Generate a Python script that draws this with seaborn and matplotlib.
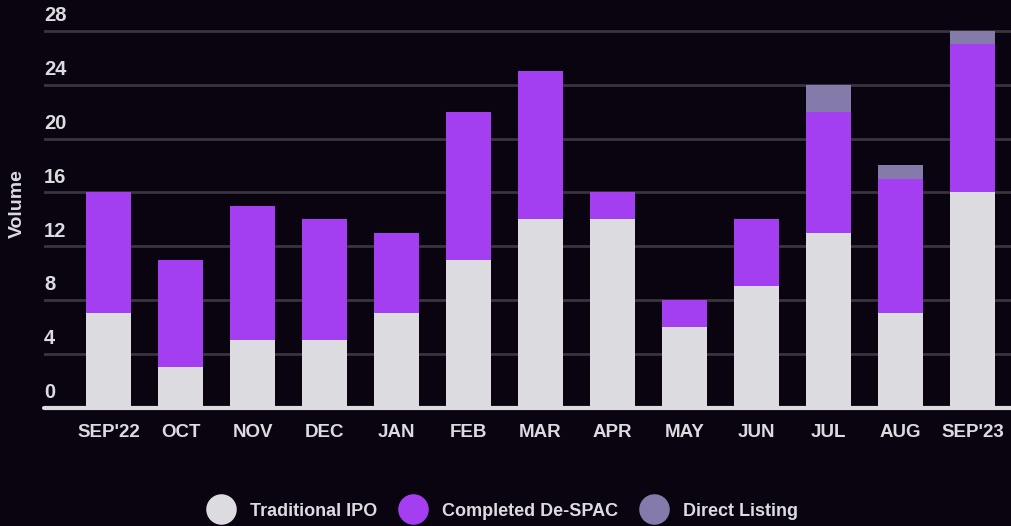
import pandas as pd
import matplotlib.pyplot as plt
import seaborn as sns
from matplotlib.lines import Line2D

months = ["SEP'22", "OCT", "NOV", "DEC", "JAN", "FEB", "MAR", "APR", "MAY", "JUN", "JUL", "AUG", "SEP'23"]
traditional_ipo = [7, 3, 5, 5, 7, 11, 14, 14, 6, 9, 13, 7, 16]
completed_despac = [9, 8, 10, 9, 6, 11, 11, 2, 2, 5, 9, 10, 11]
direct_listing = [0, 0, 0, 0, 0, 0, 0, 0, 0, 0, 2, 1, 1]
y_ticks = [0, 4, 8, 12, 16, 20, 24, 28]

BG = '#0a0410'
IPO_COLOR = '#dcdbe0'
SPAC_COLOR = '#a33ff0'
DL_COLOR = '#857bab'
TEXT = '#dcdbe0'
GRID = '#3a343f'

sns.set_style('dark')
plt.rcParams['font.family'] = ['Liberation Sans', 'DejaVu Sans']

df = pd.DataFrame({'month': months, 'ipo': traditional_ipo,
                   'spac': completed_despac, 'dl': direct_listing})
df['ipo_spac'] = df['ipo'] + df['spac']
df['total'] = df['ipo_spac'] + df['dl']

fig = plt.figure(figsize=(10.12, 5.26), dpi=100, facecolor=BG)
ax = fig.add_axes([44 / 1012, (526 - 407.5) / 526, 1 - 44 / 1012, 407.5 / 526])
ax.set_facecolor(BG)

# stacked bars: draw cumulative totals back to front
bar_kw = dict(width=0.625, saturation=1, linewidth=0, edgecolor='none', ax=ax, zorder=3)
sns.barplot(data=df, x='month', y='total', color=DL_COLOR, **bar_kw)
sns.barplot(data=df, x='month', y='ipo_spac', color=SPAC_COLOR, **bar_kw)
sns.barplot(data=df, x='month', y='ipo', color=IPO_COLOR, **bar_kw)

ax.set_xlim(-0.896, 12.549)
ax.set_ylim(0, 30.3)
ax.set_yticks(y_ticks)
ax.set_yticklabels([])
ax.tick_params(axis='y', length=0)
ax.tick_params(axis='x', length=0, pad=12, colors=TEXT, labelsize=13.5)
for lbl in ax.get_xticklabels():
    lbl.set_fontweight('bold')
ax.grid(axis='y', color=GRID, linewidth=2, zorder=0)
ax.grid(axis='x', visible=False)
for s in ax.spines.values():
    s.set_visible(False)
ax.axhline(0, color=IPO_COLOR, linewidth=3, zorder=4, clip_on=False)

# y labels sit above the grid lines
for v in y_ticks:
    ax.annotate(str(v), xy=(0, v), xycoords=('axes fraction', 'data'),
                xytext=(0, 4), textcoords='offset points', ha='left', va='bottom',
                color=TEXT, fontsize=14.5, fontweight='bold')

ax.set_xlabel('')
ax.set_ylabel('')
fig.text(17 / 1012, 1 - 204 / 526, 'Volume', rotation=90, ha='center', va='center',
         color=TEXT, fontsize=14, fontweight='bold')

handles = [Line2D([], [], marker='o', linestyle='', markersize=22, markerfacecolor=c, markeredgewidth=0)
           for c in [IPO_COLOR, SPAC_COLOR, DL_COLOR]]
leg = fig.legend(handles, ['Traditional IPO', 'Completed De-SPAC', 'Direct Listing'],
                 loc='center', bbox_to_anchor=(0.497, 1 - 511 / 526), ncol=3, frameon=False,
                 handletextpad=0.9, columnspacing=1.3, handlelength=1.4,
                 prop={'size': 13, 'weight': 'bold'})
for t in leg.get_texts():
    t.set_color(TEXT)

fig.savefig('out.png', dpi=100, facecolor=BG)
